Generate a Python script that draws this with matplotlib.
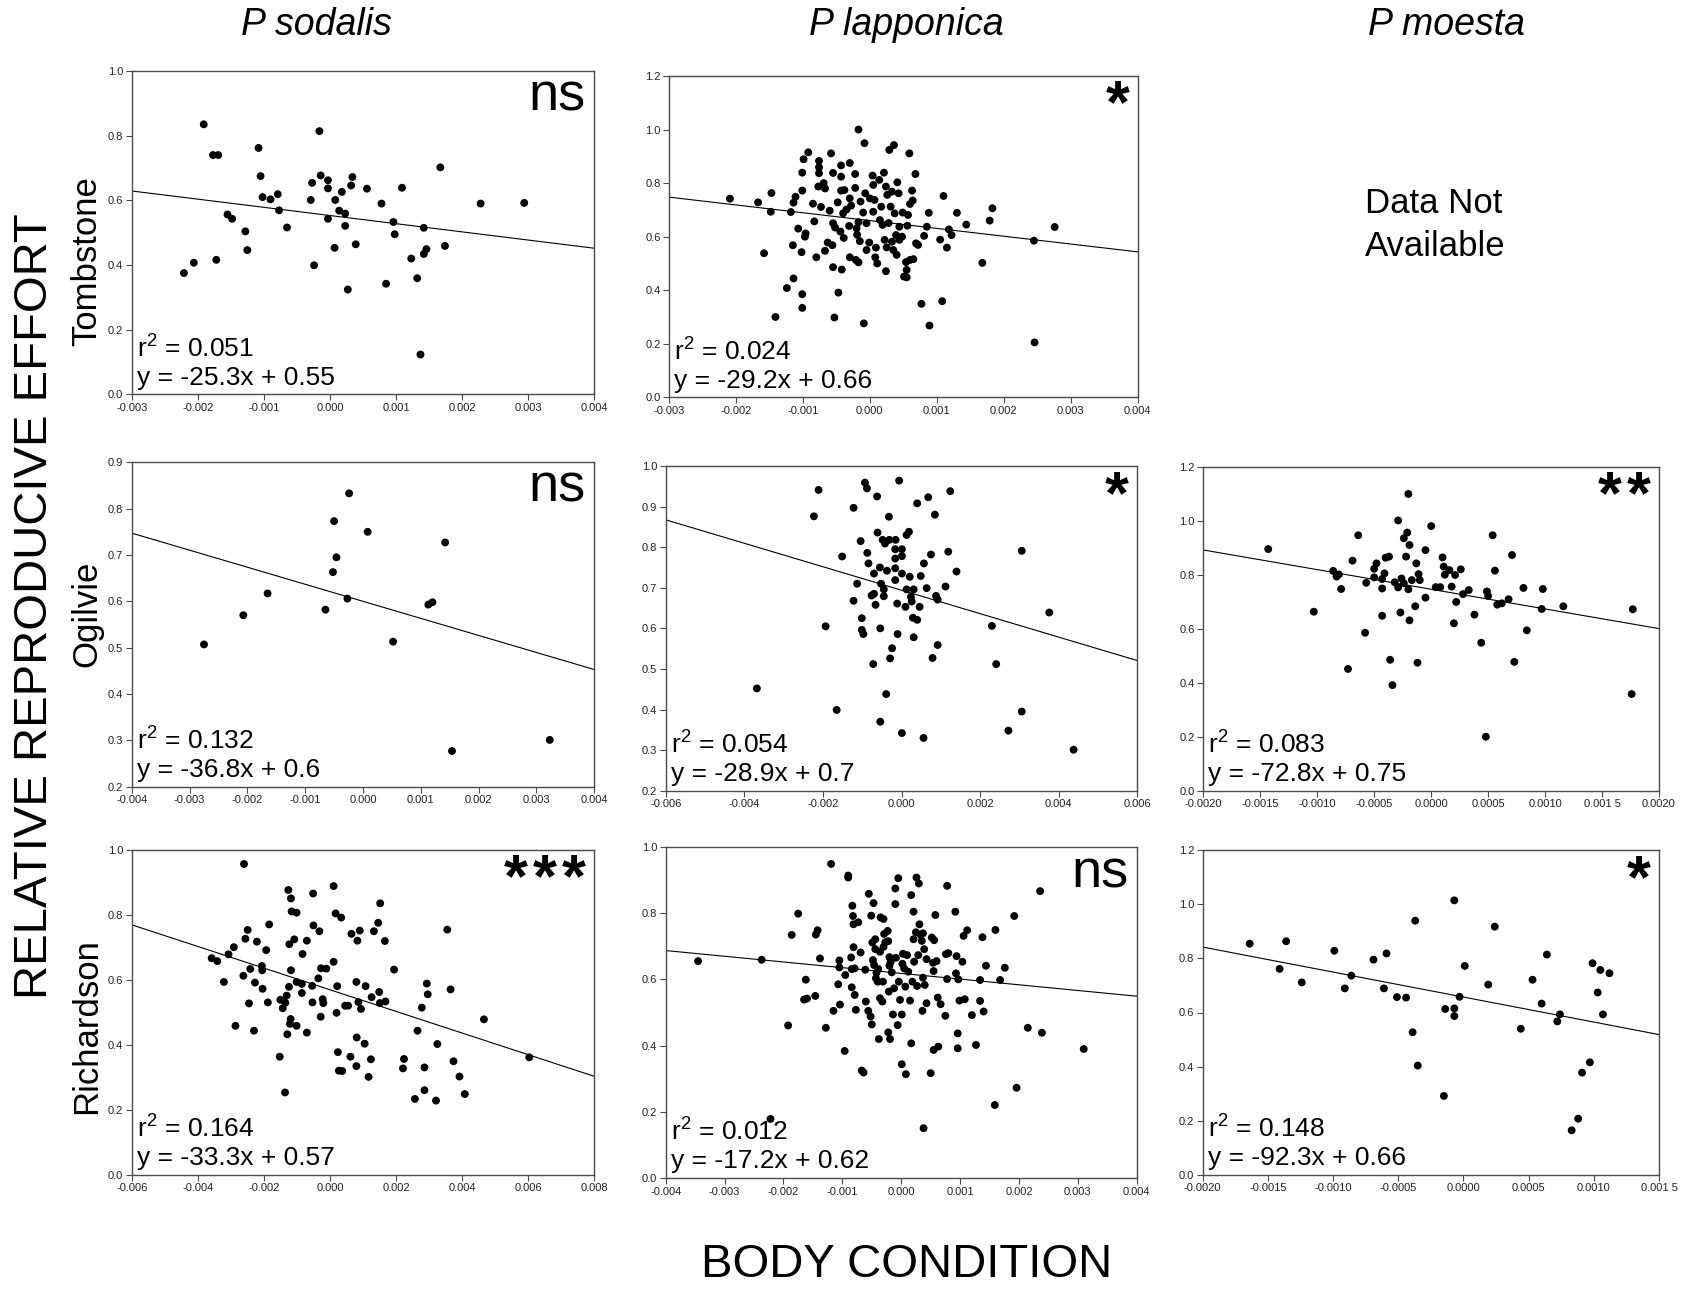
import matplotlib
matplotlib.use('Agg')
import matplotlib.pyplot as plt
import numpy as np

plt.rcParams['font.family'] = ['Liberation Sans', 'DejaVu Sans']
plt.rcParams['mathtext.fontset'] = 'custom'
plt.rcParams['mathtext.rm'] = 'Liberation Sans'
plt.rcParams['mathtext.it'] = 'Liberation Sans:italic'
plt.rcParams['mathtext.default'] = 'regular'

# ---------------- data (body condition, relative reproductive effort) ----------------
sodalis_tombstone = [
    (-0.00191, 0.835), (-0.00177, 0.740), (-0.00169, 0.740), (-0.00221, 0.375), (-0.00206, 0.407),
    (-0.00172, 0.416), (-0.00155, 0.556), (-0.00148, 0.543), (-0.00128, 0.504), (-0.00125, 0.446),
    (-0.00108, 0.762), (-0.00105, 0.675), (-0.00102, 0.610), (-0.00090, 0.603), (-0.00079, 0.619),
    (-0.00077, 0.569), (-0.00065, 0.516), (-0.00029, 0.601), (-0.00027, 0.654), (-0.00024, 0.399),
    (-0.00016, 0.814), (-0.00014, 0.677), (-0.00003, 0.662), (-0.00003, 0.637), (-0.00003, 0.543),
    (0.00007, 0.453), (0.00008, 0.601), (0.00014, 0.568), (0.00018, 0.626), (0.00023, 0.559),
    (0.00023, 0.521), (0.00027, 0.324), (0.00032, 0.646), (0.00034, 0.672), (0.00039, 0.464),
    (0.00056, 0.636), (0.00078, 0.590), (0.00085, 0.342), (0.00096, 0.533), (0.00098, 0.495),
    (0.00109, 0.639), (0.00123, 0.420), (0.00132, 0.359), (0.00137, 0.123), (0.00142, 0.515),
    (0.00142, 0.434), (0.00146, 0.449), (0.00167, 0.702), (0.00174, 0.459), (0.00228, 0.590),
    (0.00294, 0.592),
]

lapponica_tombstone = [
    (-0.00209, 0.742), (-0.00167, 0.728), (-0.00158, 0.538), (-0.00148, 0.693), (-0.00147, 0.763),
    (-0.00141, 0.300), (-0.00124, 0.408), (-0.00118, 0.692), (-0.00115, 0.568), (-0.00114, 0.444),
    (-0.00114, 0.727), (-0.00111, 0.749), (-0.00107, 0.630), (-0.00102, 0.542), (-0.00101, 0.385),
    (-0.00101, 0.334), (-0.00101, 0.839), (-0.00101, 0.772), (-0.00099, 0.889), (-0.00096, 0.612),
    (-0.00097, 0.600), (-0.00092, 0.915), (-0.00085, 0.723), (-0.00083, 0.657), (-0.00080, 0.523),
    (-0.00077, 0.787), (-0.00076, 0.883), (-0.00076, 0.859), (-0.00076, 0.837), (-0.00073, 0.711),
    (-0.00069, 0.800), (-0.00067, 0.780), (-0.00067, 0.547), (-0.00063, 0.578), (-0.00060, 0.697),
    (-0.00058, 0.911), (-0.00056, 0.568), (-0.00055, 0.838), (-0.00055, 0.486), (-0.00055, 0.650),
    (-0.00053, 0.298), (-0.00052, 0.634), (-0.00048, 0.728), (-0.00047, 0.391), (-0.00044, 0.619),
    (-0.00043, 0.866), (-0.00043, 0.824), (-0.00043, 0.772), (-0.00042, 0.477), (-0.00040, 0.687),
    (-0.00039, 0.595), (-0.00038, 0.774), (-0.00035, 0.701), (-0.00030, 0.875), (-0.00031, 0.640),
    (-0.00030, 0.523), (-0.00030, 0.743), (-0.00028, 0.716), (-0.00022, 0.782), (-0.00022, 0.834),
    (-0.00021, 0.513), (-0.00020, 0.631), (-0.00019, 0.607), (-0.00017, 0.504), (-0.00017, 1.000),
    (-0.00015, 0.583), (-0.00017, 0.654), (-0.00014, 0.731), (-0.00010, 0.690), (-0.00009, 0.276),
    (-0.00008, 0.949), (-0.00007, 0.762), (-0.00005, 0.650), (-0.00005, 0.550), (-0.00001, 0.578),
    (0.00000, 0.743), (0.00004, 0.828), (0.00005, 0.793), (0.00005, 0.693), (0.00007, 0.737),
    (0.00008, 0.523), (0.00009, 0.559), (0.00011, 0.500), (0.00014, 0.812), (0.00015, 0.662),
    (0.00017, 0.712), (0.00019, 0.644), (0.00021, 0.839), (0.00022, 0.588), (0.00024, 0.471),
    (0.00024, 0.787), (0.00025, 0.560), (0.00026, 0.756), (0.00028, 0.651), (0.00029, 0.924),
    (0.00031, 0.712), (0.00033, 0.768), (0.00033, 0.581), (0.00035, 0.550), (0.00036, 0.942),
    (0.00037, 0.687), (0.00039, 0.606), (0.00040, 0.532), (0.00041, 0.803), (0.00043, 0.762),
    (0.00044, 0.637), (0.00044, 0.588), (0.00048, 0.600), (0.00049, 0.690), (0.00051, 0.451),
    (0.00054, 0.505), (0.00055, 0.476), (0.00055, 0.448), (0.00056, 0.641), (0.00057, 0.681),
    (0.00059, 0.911), (0.00060, 0.722), (0.00060, 0.513), (0.00063, 0.772), (0.00064, 0.735),
    (0.00065, 0.516), (0.00068, 0.834), (0.00069, 0.575), (0.00072, 0.569), (0.00077, 0.349),
    (0.00081, 0.603), (0.00085, 0.637), (0.00088, 0.689), (0.00089, 0.268), (0.00105, 0.589),
    (0.00108, 0.359), (0.00110, 0.752), (0.00115, 0.559), (0.00118, 0.627), (0.00122, 0.606),
    (0.00130, 0.689), (0.00144, 0.645), (0.00168, 0.502), (0.00179, 0.660), (0.00183, 0.706),
    (0.00245, 0.585), (0.00246, 0.205), (0.00276, 0.636),
]

sodalis_ogilvie = [
    (-0.00275, 0.507), (-0.00207, 0.570), (-0.00165, 0.617), (-0.00065, 0.582), (-0.00052, 0.663),
    (-0.00050, 0.773), (-0.00046, 0.695), (-0.00027, 0.606), (-0.00024, 0.833), (0.00008, 0.750),
    (0.00052, 0.513), (0.00113, 0.593), (0.00120, 0.598), (0.00142, 0.727), (0.00154, 0.277),
    (0.00323, 0.301),
]

lapponica_ogilvie = [
    (-0.00368, 0.452), (-0.00223, 0.876), (-0.00211, 0.941), (-0.00193, 0.605), (-0.00165, 0.399),
    (-0.00151, 0.777), (-0.00122, 0.897), (-0.00122, 0.668), (-0.00113, 0.710), (-0.00104, 0.815),
    (-0.00101, 0.625), (-0.00101, 0.596), (-0.00097, 0.586), (-0.00093, 0.959), (-0.00088, 0.945),
    (-0.00087, 0.786), (-0.00084, 0.760), (-0.00076, 0.681), (-0.00072, 0.512), (-0.00070, 0.735),
    (-0.00070, 0.685), (-0.00066, 0.658), (-0.00062, 0.925), (-0.00061, 0.836), (-0.00055, 0.750),
    (-0.00054, 0.600), (-0.00054, 0.370), (-0.00052, 0.710), (-0.00048, 0.818), (-0.00045, 0.696),
    (-0.00045, 0.679), (-0.00042, 0.809), (-0.00039, 0.438), (-0.00037, 0.742), (-0.00032, 0.875),
    (-0.00031, 0.818), (-0.00029, 0.526), (-0.00024, 0.551), (-0.00016, 0.719), (-0.00016, 0.748),
    (-0.00016, 0.795), (-0.00016, 0.772), (-0.00015, 0.818), (-0.00011, 0.661), (-0.00010, 0.586),
    (-0.00006, 0.964), (0.00001, 0.795), (0.00001, 0.778), (0.00001, 0.735), (0.00001, 0.342),
    (0.00010, 0.653), (0.00013, 0.696), (0.00013, 0.830), (0.00019, 0.838), (0.00021, 0.727),
    (0.00024, 0.678), (0.00026, 0.666), (0.00029, 0.626), (0.00031, 0.696), (0.00031, 0.578),
    (0.00040, 0.908), (0.00040, 0.621), (0.00046, 0.653), (0.00049, 0.729), (0.00056, 0.330),
    (0.00057, 0.760), (0.00064, 0.699), (0.00068, 0.923), (0.00075, 0.782), (0.00079, 0.527),
    (0.00085, 0.880), (0.00088, 0.680), (0.00092, 0.671), (0.00092, 0.559), (0.00112, 0.703),
    (0.00119, 0.789), (0.00124, 0.938), (0.00140, 0.740), (0.00230, 0.606), (0.00241, 0.512),
    (0.00272, 0.348), (0.00306, 0.791), (0.00306, 0.395), (0.00376, 0.639), (0.00438, 0.301),
]

moesta_ogilvie = [
    (-0.00143, 0.895), (-0.00103, 0.663), (-0.00086, 0.814), (-0.00083, 0.793), (-0.00081, 0.801),
    (-0.00079, 0.747), (-0.00073, 0.451), (-0.00069, 0.852), (-0.00064, 0.946), (-0.00058, 0.585),
    (-0.00057, 0.770), (-0.00050, 0.822), (-0.00050, 0.790), (-0.00048, 0.842), (-0.00043, 0.784),
    (-0.00043, 0.749), (-0.00043, 0.648), (-0.00041, 0.805), (-0.00040, 0.863), (-0.00037, 0.867),
    (-0.00036, 0.485), (-0.00034, 0.391), (-0.00032, 0.772), (-0.00029, 0.753), (-0.00029, 1.001),
    (-0.00027, 0.660), (-0.00026, 0.786), (-0.00024, 0.935), (-0.00024, 0.768), (-0.00022, 0.867),
    (-0.00021, 0.956), (-0.00020, 1.099), (-0.00020, 0.746), (-0.00019, 0.631), (-0.00019, 0.910),
    (-0.00017, 0.780), (-0.00014, 0.683), (-0.00013, 0.842), (-0.00012, 0.474), (-0.00011, 0.802),
    (-0.00010, 0.780), (-0.00005, 0.715), (-0.00005, 0.891), (0.00000, 0.980), (0.00004, 0.754),
    (0.00008, 0.754), (0.00010, 0.864), (0.00011, 0.830), (0.00012, 0.800), (0.00016, 0.817),
    (0.00018, 0.756), (0.00020, 0.620), (0.00021, 0.799), (0.00022, 0.699), (0.00026, 0.820),
    (0.00028, 0.728), (0.00033, 0.743), (0.00038, 0.652), (0.00044, 0.548), (0.00048, 0.200),
    (0.00049, 0.738), (0.00050, 0.721), (0.00054, 0.946), (0.00056, 0.815), (0.00058, 0.689),
    (0.00062, 0.694), (0.00068, 0.709), (0.00071, 0.873), (0.00073, 0.477), (0.00081, 0.751),
    (0.00084, 0.594), (0.00097, 0.673), (0.00098, 0.747), (0.00116, 0.683), (0.00176, 0.358),
    (0.00177, 0.672),
]

sodalis_richardson = [
    (-0.00358, 0.667), (-0.00341, 0.658), (-0.00321, 0.594), (-0.00307, 0.679), (-0.00291, 0.701),
    (-0.00286, 0.459), (-0.00262, 0.613), (-0.00260, 0.957), (-0.00256, 0.727), (-0.00249, 0.754),
    (-0.00245, 0.528), (-0.00241, 0.634), (-0.00230, 0.444), (-0.00227, 0.592), (-0.00221, 0.718),
    (-0.00206, 0.643), (-0.00205, 0.630), (-0.00204, 0.573), (-0.00193, 0.692), (-0.00188, 0.531),
    (-0.00184, 0.771), (-0.00152, 0.364), (-0.00150, 0.539), (-0.00143, 0.513), (-0.00136, 0.254),
    (-0.00135, 0.530), (-0.00131, 0.552), (-0.00129, 0.433), (-0.00126, 0.877), (-0.00124, 0.579),
    (-0.00123, 0.710), (-0.00121, 0.465), (-0.00119, 0.480), (-0.00118, 0.851), (-0.00118, 0.630),
    (-0.00116, 0.811), (-0.00108, 0.725), (-0.00101, 0.807), (-0.00101, 0.459), (-0.00101, 0.594),
    (-0.00085, 0.560), (-0.00085, 0.588), (-0.00083, 0.680), (-0.00070, 0.438), (-0.00070, 0.721),
    (-0.00054, 0.582), (-0.00053, 0.531), (-0.00051, 0.866), (-0.00050, 0.768), (-0.00035, 0.605),
    (-0.00032, 0.750), (-0.00028, 0.487), (-0.00027, 0.636), (-0.00022, 0.541), (-0.00020, 0.529),
    (-0.00011, 0.635), (0.00011, 0.656), (0.00011, 0.889), (0.00017, 0.805), (0.00020, 0.499),
    (0.00022, 0.581), (0.00024, 0.378), (0.00027, 0.321), (0.00034, 0.792), (0.00037, 0.320),
    (0.00046, 0.521), (0.00055, 0.521), (0.00062, 0.364), (0.00065, 0.742), (0.00080, 0.335),
    (0.00080, 0.594), (0.00081, 0.423), (0.00083, 0.721), (0.00086, 0.532), (0.00090, 0.752),
    (0.00094, 0.511), (0.00105, 0.404), (0.00108, 0.581), (0.00117, 0.302), (0.00124, 0.356),
    (0.00126, 0.547), (0.00133, 0.750), (0.00146, 0.776), (0.00149, 0.563), (0.00151, 0.529),
    (0.00152, 0.836), (0.00166, 0.720), (0.00168, 0.534), (0.00194, 0.632), (0.00221, 0.328),
    (0.00224, 0.357), (0.00265, 0.444), (0.00257, 0.234), (0.00278, 0.515), (0.00286, 0.331),
    (0.00286, 0.261), (0.00293, 0.589), (0.00296, 0.556), (0.00321, 0.229), (0.00325, 0.403),
    (0.00355, 0.755), (0.00365, 0.571), (0.00374, 0.350), (0.00392, 0.303), (0.00408, 0.249),
    (0.00466, 0.479), (0.00603, 0.362),
]

lapponica_richardson = [
    (-0.00345, 0.655), (-0.00237, 0.659), (-0.00222, 0.179), (-0.00192, 0.461), (-0.00186, 0.734),
    (-0.00175, 0.798), (-0.00165, 0.539), (-0.00160, 0.542), (-0.00162, 0.599), (-0.00146, 0.550),
    (-0.00145, 0.735), (-0.00142, 0.748), (-0.00138, 0.663), (-0.00128, 0.454), (-0.00119, 0.948),
    (-0.00115, 0.505), (-0.00107, 0.585), (-0.00105, 0.657), (-0.00105, 0.636), (-0.00104, 0.524),
    (-0.00096, 0.384), (-0.00095, 0.613), (-0.00090, 0.913), (-0.00090, 0.907), (-0.00085, 0.666),
    (-0.00084, 0.631), (-0.00084, 0.576), (-0.00083, 0.822), (-0.00082, 0.791), (-0.00081, 0.697),
    (-0.00081, 0.766), (-0.00079, 0.633), (-0.00079, 0.553), (-0.00077, 0.508), (-0.00073, 0.772),
    (-0.00069, 0.681), (-0.00067, 0.325), (-0.00064, 0.319), (-0.00061, 0.629), (-0.00060, 0.533),
    (-0.00056, 0.505), (-0.00055, 0.858), (-0.00052, 0.488), (-0.00051, 0.792), (-0.00050, 0.464),
    (-0.00049, 0.711), (-0.00048, 0.658), (-0.00047, 0.830), (-0.00046, 0.643), (-0.00044, 0.721),
    (-0.00044, 0.691), (-0.00043, 0.603), (-0.00042, 0.620), (-0.00040, 0.593), (-0.00039, 0.631),
    (-0.00038, 0.420), (-0.00036, 0.543), (-0.00036, 0.683), (-0.00035, 0.787), (-0.00032, 0.533),
    (-0.00031, 0.593), (-0.00030, 0.782), (-0.00030, 0.698), (-0.00029, 0.737), (-0.00027, 0.712),
    (-0.00023, 0.746), (-0.00022, 0.715), (-0.00022, 0.440), (-0.00021, 0.563), (-0.00020, 0.667),
    (-0.00020, 0.641), (-0.00019, 0.420), (-0.00018, 0.652), (-0.00016, 0.621), (-0.00014, 0.494),
    (-0.00012, 0.573), (-0.00010, 0.874), (-0.00010, 0.827), (-0.00009, 0.665), (-0.00006, 0.462),
    (-0.00005, 0.905), (-0.00004, 0.593), (-0.00002, 0.538), (0.00001, 0.494), (0.00001, 0.344),
    (0.00002, 0.647), (0.00003, 0.677), (0.00005, 0.633), (0.00007, 0.578), (0.00008, 0.314),
    (0.00010, 0.673), (0.00012, 0.623), (0.00015, 0.536), (0.00017, 0.854), (0.00017, 0.407),
    (0.00019, 0.593), (0.00021, 0.804), (0.00021, 0.721), (0.00022, 0.653), (0.00025, 0.742),
    (0.00026, 0.907), (0.00027, 0.580), (0.00029, 0.673), (0.00030, 0.889), (0.00031, 0.766),
    (0.00033, 0.734), (0.00035, 0.716), (0.00037, 0.605), (0.00037, 0.739), (0.00038, 0.151),
    (0.00039, 0.691), (0.00040, 0.583), (0.00036, 0.505), (0.00043, 0.528), (0.00043, 0.661),
    (0.00050, 0.317), (0.00052, 0.726), (0.00054, 0.650), (0.00055, 0.387), (0.00055, 0.625),
    (0.00056, 0.718), (0.00058, 0.794), (0.00060, 0.655), (0.00062, 0.545), (0.00063, 0.397),
    (0.00067, 0.525), (0.00075, 0.490), (0.00076, 0.676), (0.00078, 0.601), (0.00078, 0.882),
    (0.00080, 0.679), (0.00092, 0.804), (0.00093, 0.618), (0.00094, 0.670), (0.00096, 0.437),
    (0.00096, 0.392), (0.00097, 0.600), (0.00099, 0.536), (0.00104, 0.653), (0.00106, 0.731),
    (0.00108, 0.540), (0.00112, 0.748), (0.00120, 0.492), (0.00127, 0.402), (0.00134, 0.598),
    (0.00134, 0.535), (0.00138, 0.727), (0.00140, 0.503), (0.00144, 0.641), (0.00159, 0.221),
    (0.00160, 0.749), (0.00168, 0.598), (0.00176, 0.635), (0.00192, 0.791), (0.00196, 0.273),
    (0.00215, 0.454), (0.00236, 0.866), (0.00239, 0.439), (0.00310, 0.390),
]

moesta_richardson = [
    (-0.00164, 0.854), (-0.00141, 0.761), (-0.00136, 0.863), (-0.00124, 0.711), (-0.00099, 0.828),
    (-0.00091, 0.689), (-0.00086, 0.736), (-0.00069, 0.795), (-0.00061, 0.689), (-0.00059, 0.818),
    (-0.00051, 0.657), (-0.00044, 0.655), (-0.00039, 0.527), (-0.00037, 0.939), (-0.00035, 0.404),
    (-0.00015, 0.292), (-0.00014, 0.613), (-0.00007, 1.014), (-0.00007, 0.615), (-0.00007, 0.587),
    (-0.00003, 0.658), (0.00001, 0.772), (0.00019, 0.703), (0.00024, 0.917), (0.00044, 0.540),
    (0.00053, 0.721), (0.00060, 0.633), (0.00064, 0.814), (0.00072, 0.567), (0.00074, 0.593),
    (0.00083, 0.165), (0.00088, 0.208), (0.00091, 0.378), (0.00097, 0.416), (0.00099, 0.782),
    (0.00103, 0.674), (0.00105, 0.757), (0.00107, 0.593), (0.00112, 0.745),
]

# panel order: row-major, None for the missing P. moesta / Tombstone panel
panel_data = [sodalis_tombstone, lapponica_tombstone, None,
              sodalis_ogilvie, lapponica_ogilvie, moesta_ogilvie,
              sodalis_richardson, lapponica_richardson, moesta_richardson]

slopes = [-25.3, -29.2, None, -36.8, -28.9, -72.8, -33.3, -17.2, -92.3]
intercepts = [0.553, 0.66, None, 0.6, 0.694, 0.746, 0.57, 0.618, 0.657]
r2_labels = ["0.051", "0.024", None, "0.132", "0.054", "0.083", "0.164", "0.012", "0.148"]
eq_labels = ["y = -25.3x + 0.55", "y = -29.2x + 0.66", None,
             "y = -36.8x + 0.6", "y = -28.9x + 0.7", "y = -72.8x + 0.75",
             "y = -33.3x + 0.57", "y = -17.2x + 0.62", "y = -92.3x + 0.66"]
signif = ["ns", "*", None, "ns", "*", "**", "***", "ns", "*"]

xlims = [(-0.003, 0.004), (-0.003, 0.004), None,
         (-0.004, 0.004), (-0.006, 0.006), (-0.002, 0.002),
         (-0.006, 0.008), (-0.004, 0.004), (-0.002, 0.0015)]
xtick_vals = [
    [-0.003, -0.002, -0.001, 0.0, 0.001, 0.002, 0.003, 0.004],
    [-0.003, -0.002, -0.001, 0.0, 0.001, 0.002, 0.003, 0.004],
    None,
    [-0.004, -0.003, -0.002, -0.001, 0.0, 0.001, 0.002, 0.003, 0.004],
    [-0.006, -0.004, -0.002, 0.0, 0.002, 0.004, 0.006],
    [-0.002, -0.0015, -0.001, -0.0005, 0.0, 0.0005, 0.001, 0.0015, 0.002],
    [-0.006, -0.004, -0.002, 0.0, 0.002, 0.004, 0.006, 0.008],
    [-0.004, -0.003, -0.002, -0.001, 0.0, 0.001, 0.002, 0.003, 0.004],
    [-0.002, -0.0015, -0.001, -0.0005, 0.0, 0.0005, 0.001, 0.0015],
]
xtick_labels = [
    ["-0.003", "-0.002", "-0.001", "0.000", "0.001", "0.002", "0.003", "0.004"],
    ["-0.003", "-0.002", "-0.001", "0.000", "0.001", "0.002", "0.003", "0.004"],
    None,
    ["-0.004", "-0.003", "-0.002", "-0.001", "0.000", "0.001", "0.002", "0.003", "0.004"],
    ["-0.006", "-0.004", "-0.002", "0.000", "0.002", "0.004", "0.006"],
    ["-0.0020", "-0.0015", "-0.0010", "-0.0005", "0.0000", "0.0005", "0.0010", "0.001 5", "0.0020"],
    ["-0.006", "-0.004", "-0.002", "0.000", "0.002", "0.004", "0.006", "0.008"],
    ["-0.004", "-0.003", "-0.002", "-0.001", "0.000", "0.001", "0.002", "0.003", "0.004"],
    ["-0.0020", "-0.0015", "-0.0010", "-0.0005", "0.0000", "0.0005", "0.0010", "0.001 5"],
]
ylims = [(0.0, 1.0), (0.0, 1.2), None, (0.2, 0.9), (0.2, 1.0), (0.0, 1.2),
         (0.0, 1.0), (0.0, 1.0), (0.0, 1.2)]
ytick_vals = [
    [0.0, 0.2, 0.4, 0.6, 0.8, 1.0],
    [0.0, 0.2, 0.4, 0.6, 0.8, 1.0, 1.2],
    None,
    [0.2, 0.3, 0.4, 0.5, 0.6, 0.7, 0.8, 0.9],
    [0.2, 0.3, 0.4, 0.5, 0.6, 0.7, 0.8, 0.9, 1.0],
    [0.0, 0.2, 0.4, 0.6, 0.8, 1.0, 1.2],
    [0.0, 0.2, 0.4, 0.6, 0.8, 1.0],
    [0.0, 0.2, 0.4, 0.6, 0.8, 1.0],
    [0.0, 0.2, 0.4, 0.6, 0.8, 1.0, 1.2],
]

species = ["P sodalis", "P lapponica", "P moesta"]
sites = ["Tombstone", "Ogilvie", "Richardson"]

# ---------------- layout ----------------
W, H = 1698, 1291
fig = plt.figure(figsize=(W / 100, H / 100), dpi=100)

# axes boxes in pixels: (left, top, right, bottom)
boxes = [(131.7, 71, 594.3, 394.3), (669, 76, 1137.7, 397.3), None,
         (131.7, 462.3, 594.3, 786.7), (665.7, 466, 1137.3, 790.7), (1203.3, 466.7, 1659, 790.7),
         (131.7, 850, 594.3, 1175), (665.7, 846.7, 1136.7, 1178.3), (1202.7, 850, 1659, 1175)]

frame_col = '#4a4a4a'
for i in range(9):
    if boxes[i] is None:
        continue
    l, t, r, b = boxes[i]
    ax = fig.add_axes([l / W, 1 - b / H, (r - l) / W, (b - t) / H])
    pts = panel_data[i]
    xs = [p[0] for p in pts]
    ys = [p[1] for p in pts]
    ax.scatter(xs, ys, s=32, color='black', edgecolors='none', zorder=3)
    x0, x1 = xlims[i]
    lx = np.array([x0, x1])
    ax.plot(lx, slopes[i] * lx + intercepts[i], color='black', lw=0.8, zorder=2)
    ax.set_xlim(x0, x1)
    ax.set_ylim(*ylims[i])
    ax.set_xticks(xtick_vals[i])
    ax.set_xticklabels(xtick_labels[i])
    ax.set_yticks(ytick_vals[i])
    ax.set_yticklabels([f"{v:.1f}" for v in ytick_vals[i]])
    ax.tick_params(direction='out', length=4, width=0.8, labelsize=8,
                   color=frame_col, labelcolor='#222222', pad=2)
    for sp in ax.spines.values():
        sp.set_color(frame_col)
        sp.set_linewidth(1.0)
    ax.text(0.011, 0.115, "r$^{2}$ = " + r2_labels[i], transform=ax.transAxes,
            fontsize=19, ha='left', va='baseline')
    ax.text(0.011, 0.03, eq_labels[i], transform=ax.transAxes,
            fontsize=19, ha='left', va='baseline')
    if signif[i] == "ns":
        ax.text(0.982, 0.878, "ns", transform=ax.transAxes, fontsize=39,
                ha='right', va='baseline')
    else:
        stars = "\u200a".join(signif[i])
        ax.text(0.982, 0.855, stars, transform=ax.transAxes, fontsize=44,
                fontweight='bold', ha='right', va='baseline')

# column titles
title_x = [316, 906, 1447]
for sx, name in zip(title_x, species):
    fig.text(sx / W, 1 - 25 / H, name, fontsize=27, style='italic',
             ha='center', va='center')

# row labels
row_y = [261.5, 614, 1026]
for ry, name in zip(row_y, sites):
    fig.text(86.6 / W, 1 - ry / H, name, fontsize=25, rotation=90,
             ha='center', va='center')

fig.text(35 / W, 1 - 606 / H, "RELATIVE REPRODUCIVE EFFORT", fontsize=34,
         rotation=90, ha='center', va='center')
fig.text(907 / W, 1 - 1265 / H, "BODY CONDITION", fontsize=34,
         ha='center', va='center')
fig.text(1435 / W, 1 - 225 / H, "Data Not\nAvailable", fontsize=25,
         ha='center', va='center', multialignment='left', linespacing=1.35)

fig.savefig("out.png", dpi=100)
